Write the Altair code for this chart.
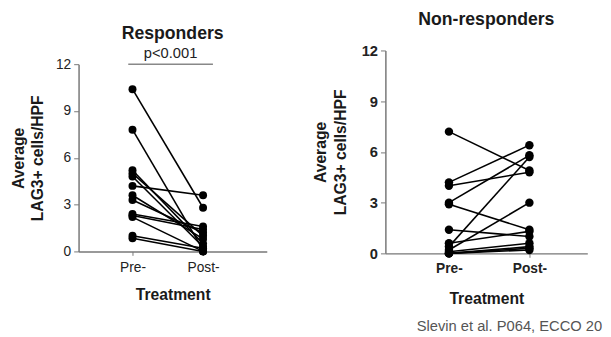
import altair as alt
import pandas as pd

stages = ["Pre-", "Post-"]
resp_pre = [10.4, 7.8, 5.2, 5.0, 4.8, 4.2, 3.6, 3.3, 2.4, 2.3, 2.2, 1.0, 0.85]
resp_post = [2.8, 0.1, 0.5, 1.0, 0.3, 3.6, 0.8, 1.2, 1.6, 1.4, 0.0, 0.2, 0.0]
nonresp_pre = [7.2, 4.2, 4.0, 3.0, 2.9, 1.4, 0.6, 0.4, 0.2, 0.1, 0.0, 0.0, 0.0]
nonresp_post = [4.9, 6.4, 4.8, 5.8, 1.4, 1.0, 1.3, 5.7, 3.0, 0.6, 0.4, 0.3, 0.2]
y_ticks = [0, 3, 6, 9, 12]


def long_df(pre, post):
    rows = []
    for i, (a, b) in enumerate(zip(pre, post)):
        rows.append({"id": i, "x": 0, "v": a})
        rows.append({"id": i, "x": 1, "v": b})
    return pd.DataFrame(rows)


FONT = "Liberation Sans"
label_expr = "datum.value == 0 ? 'Pre-' : 'Post-'"


def panel(df, w, h, xdom, yrange, bold, xlab, ylab, xtitle_pad, ytitle_pad,
          title, title_offset, dot):
    weight = "bold" if bold else "normal"
    x = alt.X("x:Q", scale=alt.Scale(domain=xdom, nice=False, zero=False),
              axis=alt.Axis(values=[0, 1], labelExpr=label_expr, title="Treatment",
                            grid=False, tickSize=4, labelFontSize=xlab,
                            labelFontWeight=weight, labelPadding=5,
                            titlePadding=xtitle_pad, titleFontSize=16,
                            domainColor="#777", tickColor="#777"))
    y = alt.Y("v:Q", scale=alt.Scale(domain=[0, 12], range=yrange, nice=False),
              axis=alt.Axis(values=y_ticks, title=["Average", "LAG3+ cells/HPF"],
                            grid=False, tickSize=5, labelFontSize=ylab,
                            labelFontWeight=weight, labelPadding=3,
                            titlePadding=ytitle_pad, titleFontSize=16,
                            titleLineHeight=20,
                            domainColor="#777", tickColor="#777"))
    base = alt.Chart(df)
    lines = base.mark_line(color="black", strokeWidth=1.6).encode(x=x, y=y, detail="id:N")
    pts = base.mark_circle(color="black", opacity=1, size=dot).encode(x=x, y=y)
    return (lines + pts).properties(
        width=w, height=h,
        title=alt.TitleParams(title, fontSize=18, font=FONT, fontWeight="bold",
                              color="#1a1a1a", offset=title_offset, anchor="middle"),
    )


left = panel(long_df(resp_pre, resp_post), 192, 205, [-0.764, 1.903], [205, 14],
             False, 14, 14, 13, 10, "Responders", 4, 66)
sig_rule = alt.Chart(pd.DataFrame({"a": [0]})).mark_rule(color="#888", strokeWidth=1.5).encode(
    x=alt.datum(-0.06), x2=alt.datum(1.14), y=alt.datum(12.0))
sig_text = alt.Chart(pd.DataFrame({"a": [0]})).mark_text(
    text="p<0.001", font=FONT, fontSize=15, color="#222", dy=-11).encode(
    x=alt.datum(0.54), y=alt.datum(12.0))
left = alt.layer(left, sig_rule, sig_text)

right = panel(long_df(nonresp_pre, nonresp_post), 206, 207, [-0.79, 1.72], [207, 0],
              True, 14, 15, 15, 13, "Non-responders", 15, 74)
foot = alt.Chart(pd.DataFrame({"a": [0]})).mark_text(
    text="Slevin et al. P064, ECCO 2018", font=FONT, fontSize=15, color="#555",
    align="left", baseline="middle", limit=190, ellipsis="\u200b").encode(
    x=alt.datum(-0.40), y=alt.datum(-4.3))
right = alt.layer(right, foot)

chart = alt.hconcat(left, right, spacing=47).properties(
    padding={"left": 2, "top": 0, "right": 0, "bottom": 0}
).configure_view(stroke=None).configure_axis(
    labelFont=FONT, titleFont=FONT, labelColor="#222", titleColor="#1a1a1a",
    titleFontWeight="bold", domainWidth=1.5
).configure_text(font=FONT)

chart.save("out.html", embed_options={"renderer": "svg", "actions": False})
